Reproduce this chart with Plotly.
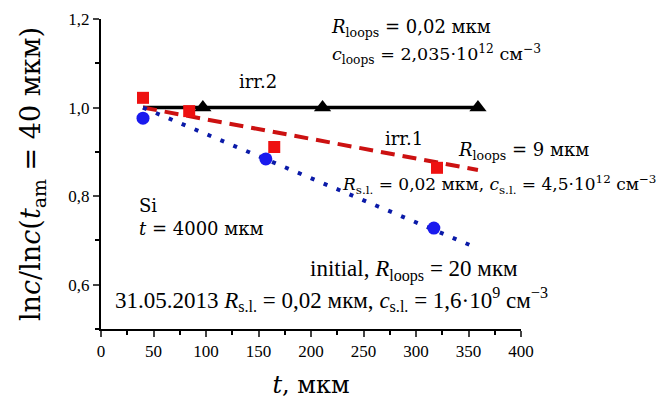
import plotly.graph_objects as go

# Data
init_t = [40, 157, 317]
init_v = [0.976, 0.884, 0.728]
irr1_t = [40, 84, 165, 320]
irr1_v = [1.022, 0.992, 0.911, 0.864]
irr2_t = [97, 211, 359]
irr2_v = [1.0, 1.0, 1.0]

fit_init_t = [40, 355]
fit_init_v = [1.0, 0.686]
fit_irr1_t = [40, 359]
fit_irr1_v = [1.0, 0.859]
fit_irr2_t = [40, 359]
fit_irr2_v = [1.0, 1.0]

x_ticks = [0, 50, 100, 150, 200, 250, 300, 350, 400]
y_ticks = [0.6, 0.8, 1.0, 1.2]
y_tick_labels = ["0,6", "0,8", "1,0", "1,2"]

SERIF = "DejaVu Serif"
TIMES = "Liberation Serif"

fig = go.Figure()
fig.add_trace(go.Scatter(x=fit_irr2_t, y=fit_irr2_v, mode="lines",
                         line=dict(color="black", width=3.5), showlegend=False))
fig.add_trace(go.Scatter(x=fit_irr1_t, y=fit_irr1_v, mode="lines",
                         line=dict(color="#cc1111", width=4, dash="14px,8px"), showlegend=False))
fig.add_trace(go.Scatter(x=fit_init_t, y=fit_init_v, mode="lines",
                         line=dict(color="#0a1aa8", width=4, dash="4px,10px"), showlegend=False))
fig.add_trace(go.Scatter(x=irr2_t, y=irr2_v, mode="markers",
                         marker=dict(symbol="triangle-up", size=15, color="black"), showlegend=False))
fig.add_trace(go.Scatter(x=init_t, y=init_v, mode="markers",
                         marker=dict(symbol="circle", size=13, color="#1a1aee"), showlegend=False))
fig.add_trace(go.Scatter(x=irr1_t, y=irr1_v, mode="markers",
                         marker=dict(symbol="square", size=12, color="#ee1111"), showlegend=False))

def ann(x, y, text, size=18, font=SERIF, xanchor="left"):
    fig.add_annotation(x=x, y=y, xref="x", yref="y", text=text, showarrow=False,
                       xanchor=xanchor, yanchor="middle",
                       font=dict(family=font, size=size, color="black"))

ann(217, 1.18, "<i>R</i><sub>loops</sub> = 0,02 мкм")
ann(218, 1.119, "<i>c</i><sub>loops</sub> = 2,035·10<sup>12</sup> см<sup>−3</sup>", size=17.5)
ann(149.5, 1.058, "irr.2", xanchor="center")
ann(268.6, 0.931, "irr.1")
ann(338, 0.902, "<i>R</i><sub>loops</sub> = 9 мкм")
ann(227.6, 0.827, "<i>R</i><sub>s.l.</sub> = 0,02 мкм, <i>c</i><sub>s.l.</sub> = 4,5·10<sup>12</sup> см<sup>−3</sup>", size=17)
ann(34, 0.78, "Si")
ann(34, 0.726, "<i>t</i> = 4000 мкм")
ann(197, 0.633, "initial, <i>R</i><sub>loops</sub> = 20 мкм", font=TIMES, size=23)
ann(11.4, 0.566, "31.05.2013 <i>R</i><sub>s.l.</sub> = 0,02 мкм, <i>c</i><sub>s.l.</sub> = 1,6·10<sup>9</sup> см<sup>−3</sup>", font=TIMES, size=23)

fig.update_xaxes(range=[0, 400], tickvals=x_ticks, ticks="outside", ticklen=6, tickwidth=1.5,
                 showline=True, linecolor="black", linewidth=2, showgrid=False, zeroline=False,
                 automargin=False,
                 minor=dict(ticks="outside", ticklen=4, dtick=25, tick0=0, tickcolor="black"),
                 tickfont=dict(family=TIMES, size=17, color="black"),
                 title=dict(text="<i>t</i>, мкм", font=dict(family=SERIF, size=24, color="black"), standoff=18))
fig.update_yaxes(range=[0.5, 1.2], tickvals=y_ticks, ticktext=y_tick_labels, ticks="outside", ticklen=6,
                 tickwidth=1.5, showline=True, linecolor="black", linewidth=2, showgrid=False, zeroline=False,
                 automargin=False,
                 minor=dict(ticks="outside", ticklen=4, tickvals=[0.5, 0.7, 0.9, 1.1], tickcolor="black"),
                 tickfont=dict(family=TIMES, size=17, color="black"),
                 title=dict(text="ln<i>c</i>/ln<i>c</i>(<i>t</i><sub>am</sub> = 40 мкм)",
                            font=dict(family=SERIF, size=27, color="black"), standoff=20))

# page body adds an 8px offset; size the figure so the visible window matches
fig.update_layout(width=663, height=391, margin=dict(l=93, r=150, t=11, b=70),
                  plot_bgcolor="white", paper_bgcolor="white")

fig.write_html("out.html")
